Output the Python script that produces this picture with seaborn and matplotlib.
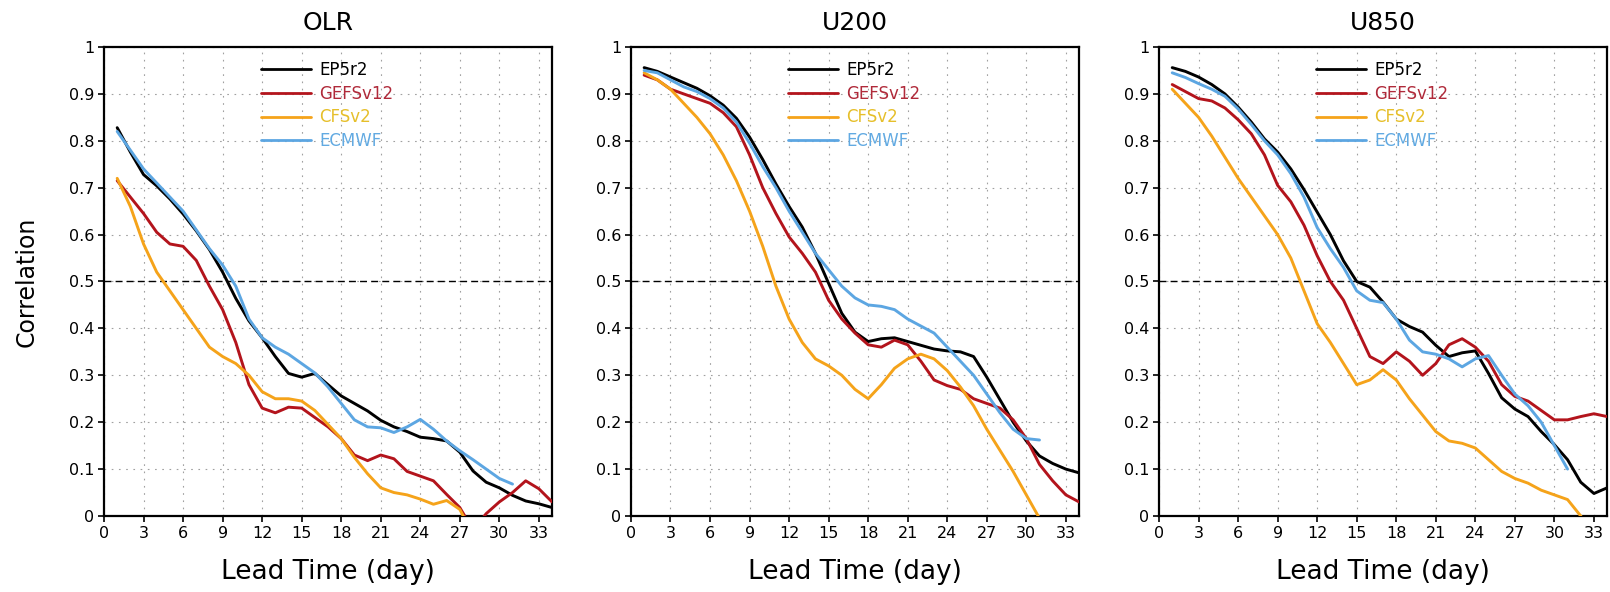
import numpy as np
import pandas as pd
import matplotlib
matplotlib.use("Agg")
import matplotlib.pyplot as plt
import seaborn as sns

nan = np.nan
days = list(range(1, 35))
models = ["EP5r2", "GEFSv12", "CFSv2", "ECMWF"]
panels = ["OLR", "U200", "U850"]
x_ticks = list(range(0, 34, 3))
y_ticks = [0, 0.1, 0.2, 0.3, 0.4, 0.5, 0.6, 0.7, 0.8, 0.9, 1]
y_ticklabels = ["0", "0.1", "0.2", "0.3", "0.4", "0.5", "0.6", "0.7", "0.8", "0.9", "1"]

# ---- OLR ----
olr_ep5r2 = [0.828, 0.776, 0.728, 0.704, 0.676, 0.644, 0.608, 0.568, 0.52, 0.464, 0.416, 0.38,
             0.34, 0.304, 0.296, 0.304, 0.28, 0.256, 0.24, 0.224, 0.204, 0.19, 0.18, 0.168,
             0.165, 0.16, 0.136, 0.096, 0.072, 0.06, 0.044, 0.032, 0.026, 0.018]
olr_gefs = [0.715, 0.68, 0.645, 0.605, 0.58, 0.575, 0.545, 0.49, 0.44, 0.37, 0.28, 0.23,
            0.22, 0.232, 0.23, 0.21, 0.19, 0.165, 0.13, 0.118, 0.13, 0.122, 0.095, 0.085,
            0.075, 0.046, 0.018, -0.03, 0.005, 0.03, 0.05, 0.075, 0.058, 0.03]
olr_cfs = [0.72, 0.66, 0.58, 0.52, 0.48, 0.44, 0.40, 0.36, 0.34, 0.325, 0.30, 0.265,
           0.25, 0.25, 0.245, 0.225, 0.195, 0.165, 0.125, 0.09, 0.06, 0.05, 0.045, 0.036,
           0.025, 0.033, 0.014, -0.04, nan, nan, nan, nan, nan, nan]
olr_ecmwf = [0.82, 0.78, 0.74, 0.71, 0.68, 0.65, 0.61, 0.57, 0.535, 0.49, 0.42, 0.38,
             0.36, 0.345, 0.325, 0.305, 0.275, 0.24, 0.205, 0.19, 0.188, 0.178, 0.19, 0.206,
             0.185, 0.16, 0.139, 0.12, 0.1, 0.08, 0.068, nan, nan, nan]

# ---- U200 ----
u200_ep5r2 = [0.956, 0.948, 0.936, 0.924, 0.912, 0.896, 0.876, 0.848, 0.808, 0.76, 0.708, 0.66,
              0.616, 0.56, 0.496, 0.432, 0.392, 0.372, 0.378, 0.38, 0.372, 0.364, 0.356, 0.352,
              0.35, 0.34, 0.296, 0.248, 0.2, 0.16, 0.128, 0.112, 0.1, 0.092]
u200_gefs = [0.94, 0.93, 0.91, 0.90, 0.89, 0.88, 0.86, 0.83, 0.77, 0.70, 0.645, 0.595,
             0.56, 0.52, 0.46, 0.42, 0.39, 0.365, 0.36, 0.375, 0.365, 0.33, 0.29, 0.278,
             0.27, 0.25, 0.24, 0.23, 0.205, 0.165, 0.11, 0.075, 0.045, 0.03]
u200_cfs = [0.945, 0.93, 0.91, 0.88, 0.85, 0.815, 0.77, 0.715, 0.65, 0.575, 0.49, 0.42,
            0.37, 0.335, 0.32, 0.30, 0.27, 0.25, 0.28, 0.315, 0.335, 0.345, 0.335, 0.31,
            0.275, 0.235, 0.185, 0.14, 0.095, 0.045, -0.005, -0.05, nan, nan]
u200_ecmwf = [0.95, 0.945, 0.93, 0.915, 0.905, 0.89, 0.87, 0.84, 0.795, 0.745, 0.70, 0.65,
              0.605, 0.56, 0.525, 0.49, 0.465, 0.45, 0.447, 0.44, 0.42, 0.405, 0.39, 0.36,
              0.33, 0.30, 0.26, 0.22, 0.185, 0.165, 0.162, nan, nan, nan]

# ---- U850 ----
u850_ep5r2 = [0.956, 0.948, 0.936, 0.92, 0.90, 0.872, 0.84, 0.804, 0.776, 0.74, 0.696, 0.648,
              0.60, 0.544, 0.50, 0.488, 0.456, 0.42, 0.404, 0.392, 0.364, 0.34, 0.348, 0.352,
              0.304, 0.252, 0.228, 0.212, 0.18, 0.152, 0.12, 0.072, 0.048, 0.06]
u850_gefs = [0.92, 0.905, 0.89, 0.885, 0.87, 0.845, 0.815, 0.77, 0.705, 0.67, 0.62, 0.555,
             0.50, 0.46, 0.40, 0.34, 0.325, 0.35, 0.33, 0.30, 0.325, 0.365, 0.378, 0.36,
             0.33, 0.28, 0.255, 0.245, 0.225, 0.205, 0.205, 0.212, 0.218, 0.212]
u850_cfs = [0.91, 0.88, 0.85, 0.81, 0.765, 0.72, 0.68, 0.64, 0.60, 0.55, 0.48, 0.41,
            0.37, 0.325, 0.28, 0.29, 0.312, 0.29, 0.25, 0.215, 0.18, 0.16, 0.155, 0.145,
            0.12, 0.095, 0.08, 0.07, 0.055, 0.045, 0.035, 0.0, -0.04, nan]
u850_ecmwf = [0.945, 0.935, 0.922, 0.91, 0.895, 0.868, 0.835, 0.80, 0.77, 0.73, 0.68, 0.615,
              0.57, 0.53, 0.48, 0.46, 0.455, 0.42, 0.375, 0.35, 0.345, 0.335, 0.318, 0.335,
              0.342, 0.30, 0.26, 0.235, 0.20, 0.15, 0.10, nan, nan, nan]

panel_data = {
    "OLR": [olr_ep5r2, olr_gefs, olr_cfs, olr_ecmwf],
    "U200": [u200_ep5r2, u200_gefs, u200_cfs, u200_ecmwf],
    "U850": [u850_ep5r2, u850_gefs, u850_cfs, u850_ecmwf],
}

line_colors = {"EP5r2": "#000000", "GEFSv12": "#b3141c", "CFSv2": "#f5a31a", "ECMWF": "#5ca6e2"}
text_colors = {"EP5r2": "#000000", "GEFSv12": "#b02a3a", "CFSv2": "#e6bf2a", "ECMWF": "#62aae2"}

sns.set_style("ticks")
plt.rcParams["font.family"] = ["DejaVu Sans"]
plt.rcParams["text.color"] = "black"
plt.rcParams["axes.labelcolor"] = "black"
plt.rcParams["xtick.color"] = "black"
plt.rcParams["ytick.color"] = "black"

fig = plt.figure(figsize=(16.10, 5.92), dpi=100)
lefts = [0.0646, 0.3919, 0.7199]
w, b, h = 0.2783, 0.1284, 0.7922

for i, name in enumerate(panels):
    ax = fig.add_axes([lefts[i], b, w, h])
    rows = []
    for m, vals in zip(models, panel_data[name]):
        for d, v in zip(days, vals):
            rows.append({"day": d, "corr": v, "model": m})
    df = pd.DataFrame(rows).dropna()
    sns.lineplot(data=df, x="day", y="corr", hue="model", hue_order=models,
                 palette=line_colors, linewidth=2.1, ax=ax, legend=True, zorder=3)
    ax.set_xlim(0, 34)
    ax.set_ylim(0, 1)
    ax.set_xticks(x_ticks)
    ax.set_xticklabels([str(t) for t in x_ticks], fontsize=11.5, color="black")
    ax.set_yticks(y_ticks)
    ax.set_yticklabels(y_ticklabels, fontsize=11.5, color="black")
    ax.grid(True, color="#a0a0a0", linestyle=(0, (1.5, 5)), linewidth=0.8, zorder=0)
    ax.axhline(0.5, color="black", linestyle=(0, (5, 3)), linewidth=1.0, zorder=2)
    for s in ax.spines.values():
        s.set_linewidth(1.6)
        s.set_color("black")
    ax.tick_params(direction="out", length=4, width=1.2, colors="black", pad=3)
    ax.set_title(name, fontsize=18, pad=12, color="black")
    ax.set_xlabel("Lead Time (day)", fontsize=19, labelpad=13, color="black")
    if i == 0:
        ax.set_ylabel("Correlation", fontsize=17, labelpad=22, color="black")
    else:
        ax.set_ylabel("")
    leg = ax.legend(loc="upper left", bbox_to_anchor=(0.335, 0.985), frameon=False,
                    fontsize=12, handlelength=3.0, handletextpad=0.5, labelspacing=0.35,
                    borderaxespad=0.0)
    for txt in leg.get_texts():
        txt.set_color(text_colors[txt.get_text()])
    for ln in leg.get_lines():
        ln.set_linewidth(2.0)

fig.savefig("out.png", dpi=100)
